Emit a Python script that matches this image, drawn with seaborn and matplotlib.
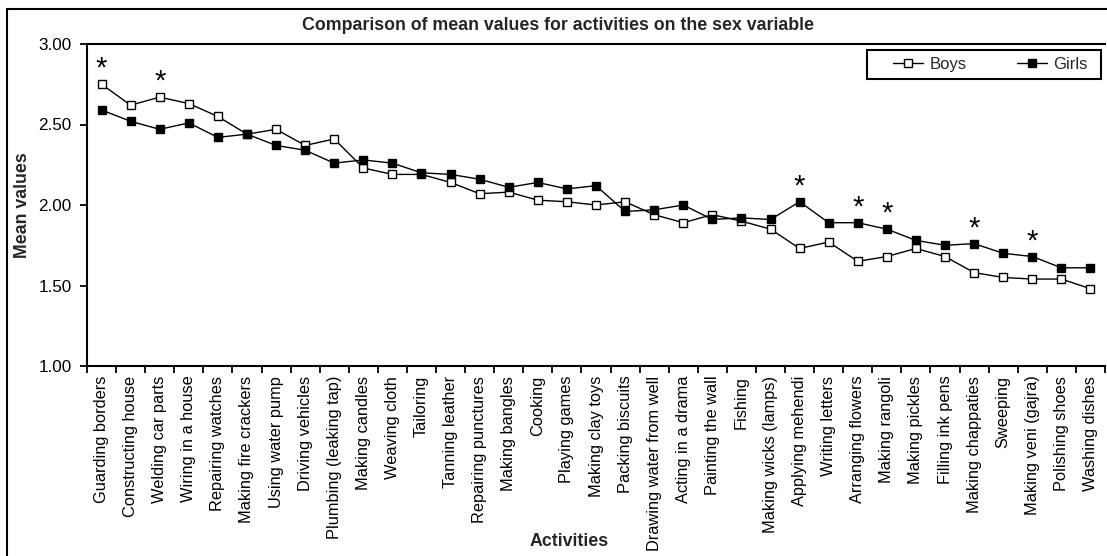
import matplotlib
matplotlib.use("Agg")
import matplotlib.pyplot as plt
from matplotlib.patches import Rectangle
from matplotlib.ticker import FormatStrFormatter, FixedLocator
import seaborn as sns
import pandas as pd

activities = [
    "Guarding borders", "Constructing house", "Welding car parts", "Wiring in a house",
    "Repairing watches", "Making fire crackers", "Using water pump", "Driving vehicles",
    "Plumbing (leaking tap)", "Making candles", "Weaving cloth", "Tailoring",
    "Tanning leather", "Repairing punctures", "Making bangles", "Cooking",
    "Playing games", "Making clay toys", "Packing biscuits", "Drawing water from well",
    "Acting in a drama", "Painting the wall", "Fishing", "Making wicks (lamps)",
    "Applying mehendi", "Writing letters", "Arranging flowers", "Making rangoli",
    "Making pickles", "Filling ink pens", "Making chappaties", "Sweeping",
    "Making veni (gajra)", "Polishing shoes", "Washing dishes",
]

boys = [
    2.75, 2.62, 2.67, 2.63, 2.55, 2.44, 2.47, 2.37, 2.41, 2.23,
    2.19, 2.19, 2.14, 2.07, 2.08, 2.03, 2.02, 2.00, 2.02, 1.94,
    1.89, 1.94, 1.90, 1.85, 1.73, 1.77, 1.65, 1.68, 1.73, 1.68,
    1.58, 1.55, 1.54, 1.54, 1.48,
]

girls = [
    2.59, 2.52, 2.47, 2.51, 2.42, 2.44, 2.37, 2.34, 2.26, 2.28,
    2.26, 2.20, 2.19, 2.16, 2.11, 2.14, 2.10, 2.12, 1.96, 1.97,
    2.00, 1.91, 1.92, 1.91, 2.02, 1.89, 1.89, 1.85, 1.78, 1.75,
    1.76, 1.70, 1.68, 1.61, 1.61,
]

# activities with a significant difference between boys and girls
significant = [
    "Guarding borders", "Welding car parts", "Applying mehendi",
    "Arranging flowers", "Making rangoli", "Making chappaties", "Making veni (gajra)",
]

y_ticks = [1.00, 1.50, 2.00, 2.50, 3.00]

title = "Comparison of mean values for activities on the sex variable"

sns.set_theme(style="ticks")
plt.rcParams["font.family"] = ["Liberation Sans", "DejaVu Sans"]
plt.rcParams["axes.edgecolor"] = "black"
plt.rcParams["xtick.color"] = "black"
plt.rcParams["ytick.color"] = "black"

W, H = 1107, 556
fig = plt.figure(figsize=(W / 100, H / 100), dpi=100)
ax = fig.add_axes([87 / W, 1 - 366 / H, (1105 - 87) / W, (366 - 44) / H])

df = pd.DataFrame({"Activity": activities, "Boys": boys, "Girls": girls})

sns.lineplot(data=df, x="Activity", y="Boys", ax=ax, sort=False, color="black",
             lw=1, marker="s", markersize=5.2, markerfacecolor="white",
             markeredgecolor="black", markeredgewidth=1, label="Boys")
sns.lineplot(data=df, x="Activity", y="Girls", ax=ax, sort=False, color="black",
             lw=1, marker="s", markersize=5.2, markerfacecolor="black",
             markeredgecolor="black", markeredgewidth=1, label="Girls")

# asterisks above the higher of the two means
for i, act in enumerate(activities):
    if act in significant:
        top = max(boys[i], girls[i])
        ax.annotate("*", xy=(i, top), xytext=(0, 1), textcoords="offset points",
                    ha="center", va="bottom", fontsize=21, color="black")

n = len(activities)
ax.set_xlim(-0.5, n - 0.5)
ax.set_ylim(1.0, 3.0)
ax.yaxis.set_major_locator(FixedLocator(y_ticks))
ax.yaxis.set_major_formatter(FormatStrFormatter("%.2f"))

ax.set_xticks(range(n))
ax.set_xticklabels(activities, rotation=90, fontsize=11.8)
ax.set_xticks([i - 0.5 for i in range(n + 1)], minor=True)
ax.tick_params(axis="x", which="major", length=0, pad=7)
ax.tick_params(axis="x", which="minor", length=5, width=1.3, direction="out")
ax.tick_params(axis="y", which="major", length=5, width=1.3, direction="out",
               labelsize=12.3, pad=6)

for side in ["left", "bottom", "top"]:
    ax.spines[side].set_linewidth(1.5)
    ax.spines[side].set_color("black")
ax.spines["right"].set_visible(False)

ax.set_xlabel("")
ax.set_ylabel("Mean values", fontsize=12.8, fontweight="bold")
ax.yaxis.set_label_coords(31 / W, 1 - 205 / H, transform=fig.transFigure)

fig.text(558 / W, 1 - 25 / H, title, ha="center", va="center",
         fontsize=12.8, fontweight="bold")
fig.text(569 / W, 1 - 542 / H, "Activities", ha="center", va="center",
         fontsize=12.8, fontweight="bold")

leg = ax.legend(loc="center left", bbox_to_anchor=(893 / W, 1 - 64.5 / H),
                bbox_transform=fig.transFigure, ncol=2, frameon=False,
                fontsize=12, handlelength=1.8, handletextpad=0.4,
                columnspacing=3.0, borderpad=0, borderaxespad=0)

# legend box
fig.patches.append(Rectangle((867 / W, 1 - 79 / H), (1101 - 867) / W, 29 / H,
                             transform=fig.transFigure, fill=False,
                             edgecolor="black", lw=1.5))

# outer frame around the whole chart
fig.patches.append(Rectangle((7 / W, -0.2), 1.3, 1.2 - 9 / H,
                             transform=fig.transFigure, fill=False,
                             edgecolor="black", lw=1.5, clip_on=False))

fig.savefig("out.png", dpi=100, facecolor="white")
